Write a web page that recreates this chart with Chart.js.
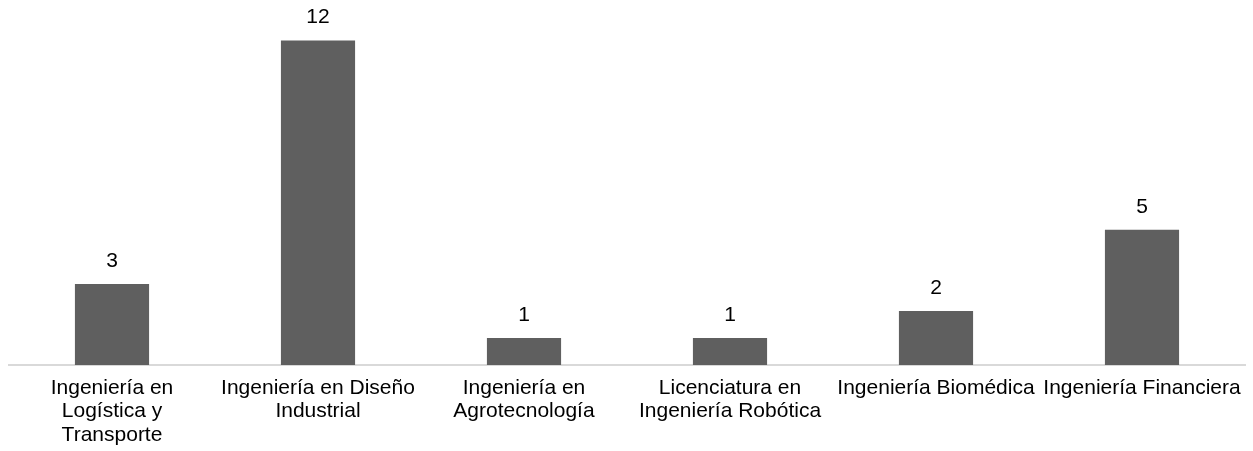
<!DOCTYPE html>
<html>
<head>
<meta charset="utf-8">
<script src="https://cdn.jsdelivr.net/npm/chart.js@4/dist/chart.umd.min.js"></script>
<style>
  html, body { margin: 0; padding: 0; background: #fff; }
  #wrap { width: 1253px; height: 451px; }
</style>
</head>
<body>
<div id="wrap"><canvas id="bar-chart"></canvas></div>
<script>
var categories = [
  ["Ingeniería en", "Logística y", "Transporte"],
  ["Ingeniería en Diseño", "Industrial"],
  ["Ingeniería en", "Agrotecnología"],
  ["Licenciatura en", "Ingeniería Robótica"],
  "Ingeniería Biomédica",
  "Ingeniería Financiera"
];
var values = [3, 12, 1, 1, 2, 5];

// value labels above bars
var barLabels = {
  id: 'barLabels',
  afterDatasetsDraw: function(chart) {
    var ctx = chart.ctx;
    var meta = chart.getDatasetMeta(0);
    ctx.save();
    ctx.font = '21px "Liberation Sans", Arial, sans-serif';
    ctx.fillStyle = '#000';
    ctx.textAlign = 'center';
    ctx.textBaseline = 'middle';
    meta.data.forEach(function(bar, i) {
      ctx.fillText(String(values[i]), bar.x, bar.y - 23);
    });
    ctx.restore();
  }
};

new Chart(document.getElementById("bar-chart"), {
  type: 'bar',
  data: {
    labels: categories,
    datasets: [{
      data: values,
      backgroundColor: '#5f5f5f',
      barPercentage: 0.72,
      categoryPercentage: 0.5
    }]
  },
  options: {
    responsive: true,
    maintainAspectRatio: false,
    animation: false,
    layout: { padding: { left: 9, right: 8, top: 0, bottom: 0 } },
    plugins: {
      legend: { display: false },
      tooltip: { enabled: false }
    },
    scales: {
      x: {
        grid: { display: false, drawTicks: false },
        border: { color: '#d9d9d9', width: 2 },
        ticks: {
          color: '#000',
          font: { family: '"Liberation Sans", Arial, sans-serif', size: 21, lineHeight: 1.12 },
          padding: 11,
          maxRotation: 0,
          autoSkip: false
        },
        afterFit: function(scale) { scale.height = 86; }
      },
      y: {
        display: false,
        min: 0,
        max: 13.5
      }
    }
  },
  plugins: [barLabels]
});
</script>
</body>
</html>
